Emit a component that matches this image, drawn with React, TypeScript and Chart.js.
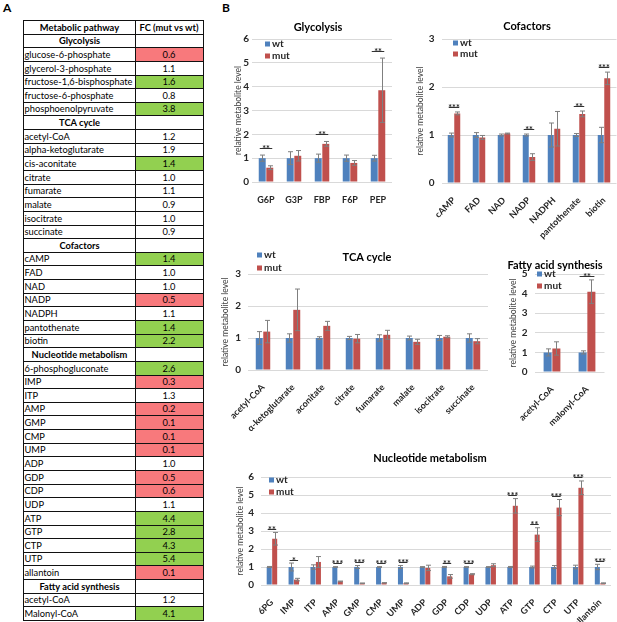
import React, { useEffect, useRef } from "react";
import { Chart, registerables } from "chart.js";
Chart.register(...registerables);

const FONT = "Lato, 'Open Sans', 'DejaVu Sans', sans-serif";
const BLUE = "#4f81bd";
const RED = "#c0504d";
const CELL_RED = "#f8797c";
const CELL_GREEN = "#92d050";

// ---------------- Table (panel A) ----------------
const tableHeader = ["Metabolic pathway", "FC (mut vs wt)"];
const sectionTitles = ["Glycolysis", "TCA cycle", "Cofactors", "Nucleotide metabolism", "Fatty acid synthesis"];

const tGlyNames = ["glucose-6-phosphate", "glycerol-3-phosphate", "fructose-1,6-bisphosphate", "fructose-6-phosphate", "phosphoenolpyruvate"];
const tGlyFC = ["0.6", "1.1", "1.6", "0.8", "3.8"];
const tGlyFlag = ["d", "", "u", "", "u"];

const tTcaNames = ["acetyl-CoA", "alpha-ketoglutarate", "cis-aconitate", "citrate", "fumarate", "malate", "isocitrate", "succinate"];
const tTcaFC = ["1.2", "1.9", "1.4", "1.0", "1.1", "0.9", "1.0", "0.9"];
const tTcaFlag = ["", "", "u", "", "", "", "", ""];

const tCofNames = ["cAMP", "FAD", "NAD", "NADP", "NADPH", "pantothenate", "biotin"];
const tCofFC = ["1.4", "1.0", "1.0", "0.5", "1.1", "1.4", "2.2"];
const tCofFlag = ["u", "", "", "d", "", "u", "u"];

const tNucNames = ["6-phosphogluconate", "IMP", "ITP", "AMP", "GMP", "CMP", "UMP", "ADP", "GDP", "CDP", "UDP", "ATP", "GTP", "CTP", "UTP", "allantoin"];
const tNucFC = ["2.6", "0.3", "1.3", "0.2", "0.1", "0.1", "0.1", "1.0", "0.5", "0.6", "1.1", "4.4", "2.8", "4.3", "5.4", "0.1"];
const tNucFlag = ["u", "d", "", "d", "d", "d", "d", "", "d", "d", "", "u", "u", "u", "u", "d"];

const tFatNames = ["acetyl-CoA", "Malonyl-CoA"];
const tFatFC = ["1.2", "4.1"];
const tFatFlag = ["", "u"];

// ---------------- Charts (panel B) ----------------
const glyCats = ["G6P", "G3P", "FBP", "F6P", "PEP"];
const glyWt = [1, 1, 1, 1, 1];
const glyWtErr = [0.13, 0.27, 0.17, 0.13, 0.12];
const glyMut = [0.6, 1.1, 1.6, 0.8, 3.85];
const glyMutErr = [0.08, 0.22, 0.1, 0.1, 1.35];
const glySig = ["**", "", "**", "", "**"];

const cofCats = ["cAMP", "FAD", "NAD", "NADP", "NADPH", "pantothenate", "biotin"];
const cofWt = [1, 1, 1, 1, 1, 1, 1];
const cofWtErr = [0.04, 0.05, 0.02, 0.02, 0.25, 0.03, 0.16];
const cofMut = [1.45, 0.95, 1.03, 0.54, 1.13, 1.44, 2.18];
const cofMutErr = [0.03, 0.04, 0.01, 0.07, 0.36, 0.06, 0.13];
const cofSig = ["***", "", "", "**", "", "**", "***"];

const tcaCats = ["acetyl-CoA", "α-ketoglutarate", "aconitate", "citrate", "fumarate", "malate", "isocitrate", "succinate"];
const tcaWt = [1, 1, 1, 1, 1, 1, 1, 1];
const tcaWtErr = [0.2, 0.13, 0.04, 0.05, 0.1, 0.06, 0.08, 0.13];
const tcaMut = [1.2, 1.88, 1.38, 0.98, 1.1, 0.88, 1.04, 0.9];
const tcaMutErr = [0.35, 0.65, 0.14, 0.13, 0.14, 0.08, 0.03, 0.08];
const tcaSig = ["", "", "", "", "", "", "", ""];

const fatCats = ["acetyl-CoA", "malonyl-CoA"];
const fatWt = [1, 1];
const fatWtErr = [0.18, 0.08];
const fatMut = [1.2, 4.1];
const fatMutErr = [0.34, 0.6];
const fatSig = ["", "**"];

const nucCats = ["6PG", "IMP", "ITP", "AMP", "GMP", "CMP", "UMP", "ADP", "GDP", "CDP", "UDP", "ATP", "GTP", "CTP", "UTP", "allantoin"];
const nucWt = [1, 1, 1, 1, 1, 1, 1, 1, 1, 1, 1, 1, 1, 1, 1, 1];
const nucWtErr = [0.03, 0.22, 0.12, 0.02, 0.08, 0.02, 0.08, 0.02, 0.03, 0.02, 0.02, 0.03, 0.05, 0.08, 0.1, 0.15];
const nucMut = [2.57, 0.3, 1.28, 0.2, 0.1, 0.12, 0.1, 0.95, 0.48, 0.6, 1.1, 4.4, 2.8, 4.3, 5.4, 0.1];
const nucMutErr = [0.35, 0.07, 0.3, 0.02, 0.01, 0.01, 0.02, 0.15, 0.1, 0.03, 0.08, 0.4, 0.38, 0.45, 0.38, 0.02];
const nucSig = ["**", "*", "", "***", "***", "***", "***", "", "**", "***", "", "***", "**", "***", "***", "***"];

const yAxisTitle = "relative metabolite level";
const seriesNames = ["wt", "mut"];

type Spec = {
  left: number; top: number; width: number; height: number;
  plotL: number; plotR: number; plotT: number; plotB: number;
  yMax: number;
  cats: string[]; wt: number[]; wtErr: number[]; mut: number[]; mutErr: number[]; sig: string[];
  title: string; titleX: number; titleY: number;
  legendX: number; legendY: number; legendDy: number;
  yTitleX: number; rotate: number; catPct: number; barPct: number; sigGap: number;
  xPad: number; yPad: number;
};

const specs: Spec[] = [
  {
    left: 215, top: 0, width: 190, height: 205, plotL: 252, plotR: 392, plotT: 39, plotB: 182, yMax: 6,
    cats: glyCats, wt: glyWt, wtErr: glyWtErr, mut: glyMut, mutErr: glyMutErr, sig: glySig,
    title: "Glycolysis", titleX: 318, titleY: 27, legendX: 265, legendY: 44, legendDy: 12,
    yTitleX: 238, rotate: 0, catPct: 0.54, barPct: 0.92, sigGap: 7, xPad: 5, yPad: 3,
  },
  {
    left: 405, top: 0, width: 212, height: 245, plotL: 441.5, plotR: 616.5, plotT: 39, plotB: 183, yMax: 3,
    cats: cofCats, wt: cofWt, wtErr: cofWtErr, mut: cofMut, mutErr: cofMutErr, sig: cofSig,
    title: "Cofactors", titleX: 527, titleY: 26, legendX: 453, legendY: 43, legendDy: 11,
    yTitleX: 420, rotate: 45, catPct: 0.52, barPct: 0.92, sigGap: 5, xPad: 4, yPad: 7,
  },
  {
    left: 200, top: 240, width: 290, height: 200, plotL: 248, plotR: 488, plotT: 274, plotB: 370, yMax: 3,
    cats: tcaCats, wt: tcaWt, wtErr: tcaWtErr, mut: tcaMut, mutErr: tcaMutErr, sig: tcaSig,
    title: "TCA cycle", titleX: 367, titleY: 257, legendX: 257, legendY: 255, legendDy: 13,
    yTitleX: 225, rotate: 45, catPct: 0.5, barPct: 0.93, sigGap: 5, xPad: 4, yPad: 7,
  },
  {
    left: 480, top: 245, width: 137, height: 190, plotL: 534.5, plotR: 604.5, plotT: 274, plotB: 372, yMax: 5,
    cats: fatCats, wt: fatWt, wtErr: fatWtErr, mut: fatMut, mutErr: fatMutErr, sig: fatSig,
    title: "Fatty acid synthesis", titleX: 555, titleY: 265, legendX: 537, legendY: 274, legendDy: 12,
    yTitleX: 513, rotate: 45, catPct: 0.5, barPct: 0.92, sigGap: 4, xPad: 4, yPad: 7,
  },
  {
    left: 215, top: 440, width: 402, height: 182, plotL: 261, plotR: 611, plotT: 477, plotB: 585, yMax: 6,
    cats: nucCats, wt: nucWt, wtErr: nucWtErr, mut: nucMut, mutErr: nucMutErr, sig: nucSig,
    title: "Nucleotide metabolism", titleX: 430, titleY: 458, legendX: 269, legendY: 480, legendDy: 12,
    yTitleX: 240, rotate: 45, catPct: 0.5, barPct: 0.92, sigGap: 3.5, xPad: 4, yPad: 7,
  },
];

function makeDecor(s: Spec) {
  return {
    id: "decor",
    afterDatasetsDraw(chart: any) {
      const ctx = chart.ctx as CanvasRenderingContext2D;
      const y = chart.scales.y;
      const m0 = chart.getDatasetMeta(0);
      const m1 = chart.getDatasetMeta(1);
      const cap = 2.5;
      ctx.save();
      ctx.strokeStyle = "#7f7f7f";
      ctx.lineWidth = 1;
      const sets: [any, number[], number[]][] = [[m0, s.wt, s.wtErr], [m1, s.mut, s.mutErr]];
      sets.forEach(([m, v, e]) => {
        m.data.forEach((el: any, i: number) => {
          const x = Math.round(el.x) + 0.5;
          const yt = y.getPixelForValue(v[i] + e[i]);
          const yb = y.getPixelForValue(Math.max(0, v[i] - e[i]));
          ctx.beginPath();
          ctx.moveTo(x, yt); ctx.lineTo(x, yb);
          ctx.moveTo(x - cap, yt); ctx.lineTo(x + cap, yt);
          ctx.moveTo(x - cap, yb); ctx.lineTo(x + cap, yb);
          ctx.stroke();
        });
      });
      ctx.strokeStyle = "#333";
      ctx.fillStyle = "#222";
      ctx.font = `bold 9px ${FONT}`;
      ctx.textAlign = "center";
      ctx.textBaseline = "alphabetic";
      s.sig.forEach((txt, i) => {
        if (!txt) return;
        const a = m0.data[i] as any;
        const b = m1.data[i] as any;
        const top = Math.max(s.wt[i] + s.wtErr[i], s.mut[i] + s.mutErr[i]);
        const ly = Math.round(y.getPixelForValue(top) - s.sigGap) + 0.5;
        const x0 = a.x - a.width / 2 + 1;
        const x1 = b.x + b.width / 2 - 1;
        ctx.beginPath();
        ctx.moveTo(x0, ly); ctx.lineTo(x1, ly);
        ctx.stroke();
        ctx.fillText(txt, (x0 + x1) / 2, ly + 3);
      });
      ctx.restore();
    },
    afterDraw(chart: any) {
      const ctx = chart.ctx as CanvasRenderingContext2D;
      ctx.save();
      ctx.fillStyle = "#000";
      ctx.font = `bold 11px ${FONT}`;
      ctx.textAlign = "center";
      ctx.textBaseline = "middle";
      ctx.fillText(s.title, s.titleX - s.left, s.titleY - s.top);
      const colors = [BLUE, RED];
      ctx.font = `bold 10px ${FONT}`;
      ctx.textAlign = "left";
      seriesNames.forEach((n, k) => {
        const lx = s.legendX - s.left;
        const ly = s.legendY - s.top + k * s.legendDy;
        ctx.fillStyle = colors[k];
        ctx.fillRect(lx, ly - 2.5, 5, 5);
        ctx.fillStyle = "#262626";
        ctx.fillText(n, lx + 7, ly);
      });
      ctx.restore();
    },
  };
}

function BarPanel({ s }: { s: Spec }) {
  const ref = useRef<HTMLCanvasElement>(null);
  useEffect(() => {
    const canvas = ref.current!;
    const yTitleSize = 8.5;
    const lh = yTitleSize * 1.2;
    const chart = new Chart(canvas, {
      type: "bar",
      data: {
        labels: s.cats,
        datasets: [
          { label: seriesNames[0], data: s.wt, backgroundColor: BLUE, borderWidth: 0 },
          { label: seriesNames[1], data: s.mut, backgroundColor: RED, borderWidth: 0 },
        ],
      },
      options: {
        responsive: false,
        animation: false,
        devicePixelRatio: 1,
        layout: {
          padding: { left: 0, top: s.plotT - s.top, right: s.width - (s.plotR - s.left), bottom: 0 },
        },
        datasets: { bar: { categoryPercentage: s.catPct, barPercentage: s.barPct } },
        plugins: { legend: { display: false }, title: { display: false }, tooltip: { enabled: false } },
        scales: {
          x: {
            grid: { display: false },
            border: { display: false },
            ticks: {
              autoSkip: false,
              maxRotation: s.rotate,
              minRotation: s.rotate,
              padding: s.xPad,
              color: "#262626",
              font: { family: FONT, size: 9, weight: "bold" },
            },
            afterFit: (sc: any) => { sc.height = s.height - (s.plotB - s.top); },
          },
          y: {
            min: 0,
            max: s.yMax,
            ticks: { stepSize: 1, padding: s.yPad, color: "#262626", font: { family: FONT, size: 10, weight: "bold" } },
            grid: { color: "#d9d9d9", drawTicks: false },
            border: { display: false },
            title: {
              display: true,
              text: yAxisTitle,
              color: "#404040",
              font: { family: FONT, size: yTitleSize },
              padding: { top: s.yTitleX - s.left - lh / 2, bottom: 0 },
            },
            afterFit: (sc: any) => { sc.width = s.plotL - s.left; },
          },
        },
      } as any,
      plugins: [makeDecor(s)],
    });
    return () => chart.destroy();
  }, []);
  return (
    <canvas
      ref={ref}
      width={s.width}
      height={s.height}
      style={{ position: "absolute", left: s.left, top: s.top, width: s.width, height: s.height }}
    />
  );
}

type Row = { name: string; fc: string; flag: string; kind: "head" | "sec" | "item" };

function buildRows(): Row[] {
  const rows: Row[] = [{ name: tableHeader[0], fc: tableHeader[1], flag: "", kind: "head" }];
  const groups: [string[], string[], string[]][] = [
    [tGlyNames, tGlyFC, tGlyFlag],
    [tTcaNames, tTcaFC, tTcaFlag],
    [tCofNames, tCofFC, tCofFlag],
    [tNucNames, tNucFC, tNucFlag],
    [tFatNames, tFatFC, tFatFlag],
  ];
  groups.forEach(([n, f, fl], g) => {
    rows.push({ name: sectionTitles[g], fc: "", flag: "", kind: "sec" });
    n.forEach((nm, i) => rows.push({ name: nm, fc: f[i], flag: fl[i], kind: "item" }));
  });
  return rows;
}

function Table() {
  const rows = buildRows();
  const x0 = 23, x1 = 135, x2 = 203, y0 = 20, y1 = 620;
  const h = (y1 - y0) / rows.length;
  const els: any[] = [];
  rows.forEach((r, i) => {
    const t = Math.round(y0 + i * h);
    const b = Math.round(y0 + (i + 1) * h);
    const bold = r.kind !== "item";
    const bg = r.flag === "d" ? CELL_RED : r.flag === "u" ? CELL_GREEN : "transparent";
    els.push(
      <div key={"bg" + i} style={{ position: "absolute", left: x1, top: t, width: x2 - x1, height: b - t, background: bg }} />
    );
    els.push(
      <div key={"l" + i} style={{
        position: "absolute", left: x0 + 1.5, top: t, width: x1 - x0 - 2, height: b - t, lineHeight: `${b - t + 1}px`,
        fontWeight: bold ? 700 : 400, textAlign: r.kind === "item" ? "left" : "center", whiteSpace: "nowrap",
      }}>{r.name}</div>
    );
    els.push(
      <div key={"r" + i} style={{
        position: "absolute", left: x1, top: t, width: x2 - x1, height: b - t, lineHeight: `${b - t + 1}px`,
        fontWeight: bold ? 700 : 400, textAlign: "center", whiteSpace: "nowrap",
      }}>{r.fc}</div>
    );
    els.push(<div key={"h" + i} style={{ position: "absolute", left: x0, top: t, width: x2 - x0 + 1, height: 1, background: "#111" }} />);
  });
  els.push(<div key="hb" style={{ position: "absolute", left: x0, top: y1, width: x2 - x0 + 1, height: 1, background: "#111" }} />);
  [x0, x1, x2].forEach((x, k) =>
    els.push(<div key={"v" + k} style={{ position: "absolute", left: x, top: y0, width: 1, height: y1 - y0 + 1, background: "#111" }} />)
  );
  return <div style={{ position: "absolute", left: 0, top: 0, fontFamily: FONT, fontSize: 9.3, color: "#000" }}>{els}</div>;
}

export default function App() {
  return (
    <div style={{ position: "absolute", left: 0, top: 0, width: 617, height: 622, overflow: "hidden", background: "#fff", fontFamily: FONT }}>
      <div style={{ position: "absolute", left: 3, top: 0, fontWeight: 700, fontSize: 12 }}>A</div>
      <div style={{ position: "absolute", left: 222, top: 0, fontWeight: 700, fontSize: 12 }}>B</div>
      <Table />
      {specs.map((s, i) => <BarPanel key={i} s={s} />)}
    </div>
  );
}
